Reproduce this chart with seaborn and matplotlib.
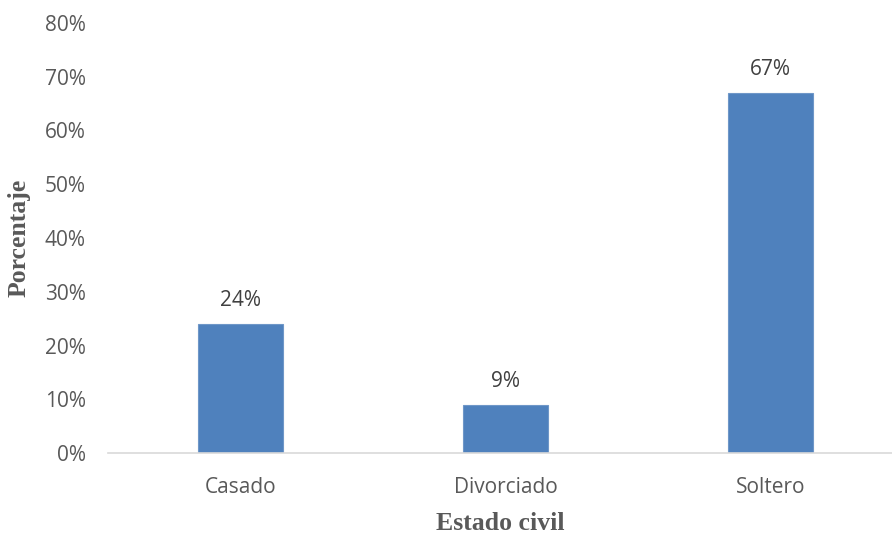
import matplotlib
matplotlib.use("Agg")
import matplotlib.pyplot as plt
import seaborn as sns
import pandas as pd

categories = ["Casado", "Divorciado", "Soltero"]
values = [24, 9, 67]
yticks = [0, 10, 20, 30, 40, 50, 60, 70, 80]
ytick_labels = [f"{v}%" for v in yticks]

sns.set_theme(style="white")
plt.rcParams['font.family'] = ['Open Sans', 'DejaVu Sans']

W, H = 892, 533
fig = plt.figure(figsize=(W / 100, H / 100), dpi=100)
ax = fig.add_axes([108 / W, (H - 453) / H, (W - 108) / W, (453 - 23) / H])

df = pd.DataFrame({"cat": categories, "val": values})
sns.barplot(data=df, x="cat", y="val", color="#4F81BD", width=0.317,
            saturation=1, ax=ax, edgecolor="#6F97C8", linewidth=0.8)

ax.set_ylim(0, 80)
ax.set_xlim(-0.5, (W - 108) / 265 - 0.5)
ax.set_yticks(yticks)
ax.set_yticklabels(ytick_labels)
ax.tick_params(axis="both", length=0, colors="#595959", labelsize=15)
ax.tick_params(axis="x", pad=17)
ax.tick_params(axis="y", pad=16)

for s in ["top", "right", "left"]:
    ax.spines[s].set_visible(False)
ax.spines["bottom"].set_color("#D9D9D9")
ax.spines["bottom"].set_linewidth(1.2)

for p, v in zip(ax.patches, values):
    ax.annotate(f"{v}%", (p.get_x() + p.get_width() / 2, p.get_height()),
                xytext=(0, 9), textcoords="offset points", ha="center",
                va="bottom", fontsize=15, color="#404040")

ax.set_xlabel("Estado civil", fontsize=18.5, fontweight="bold",
              family="Liberation Serif", color="#595959", labelpad=10)
ax.set_ylabel("Porcentaje", fontsize=18.5, fontweight="bold",
              family="Liberation Serif", color="#595959", labelpad=10)

fig.savefig("out.png", dpi=100)
